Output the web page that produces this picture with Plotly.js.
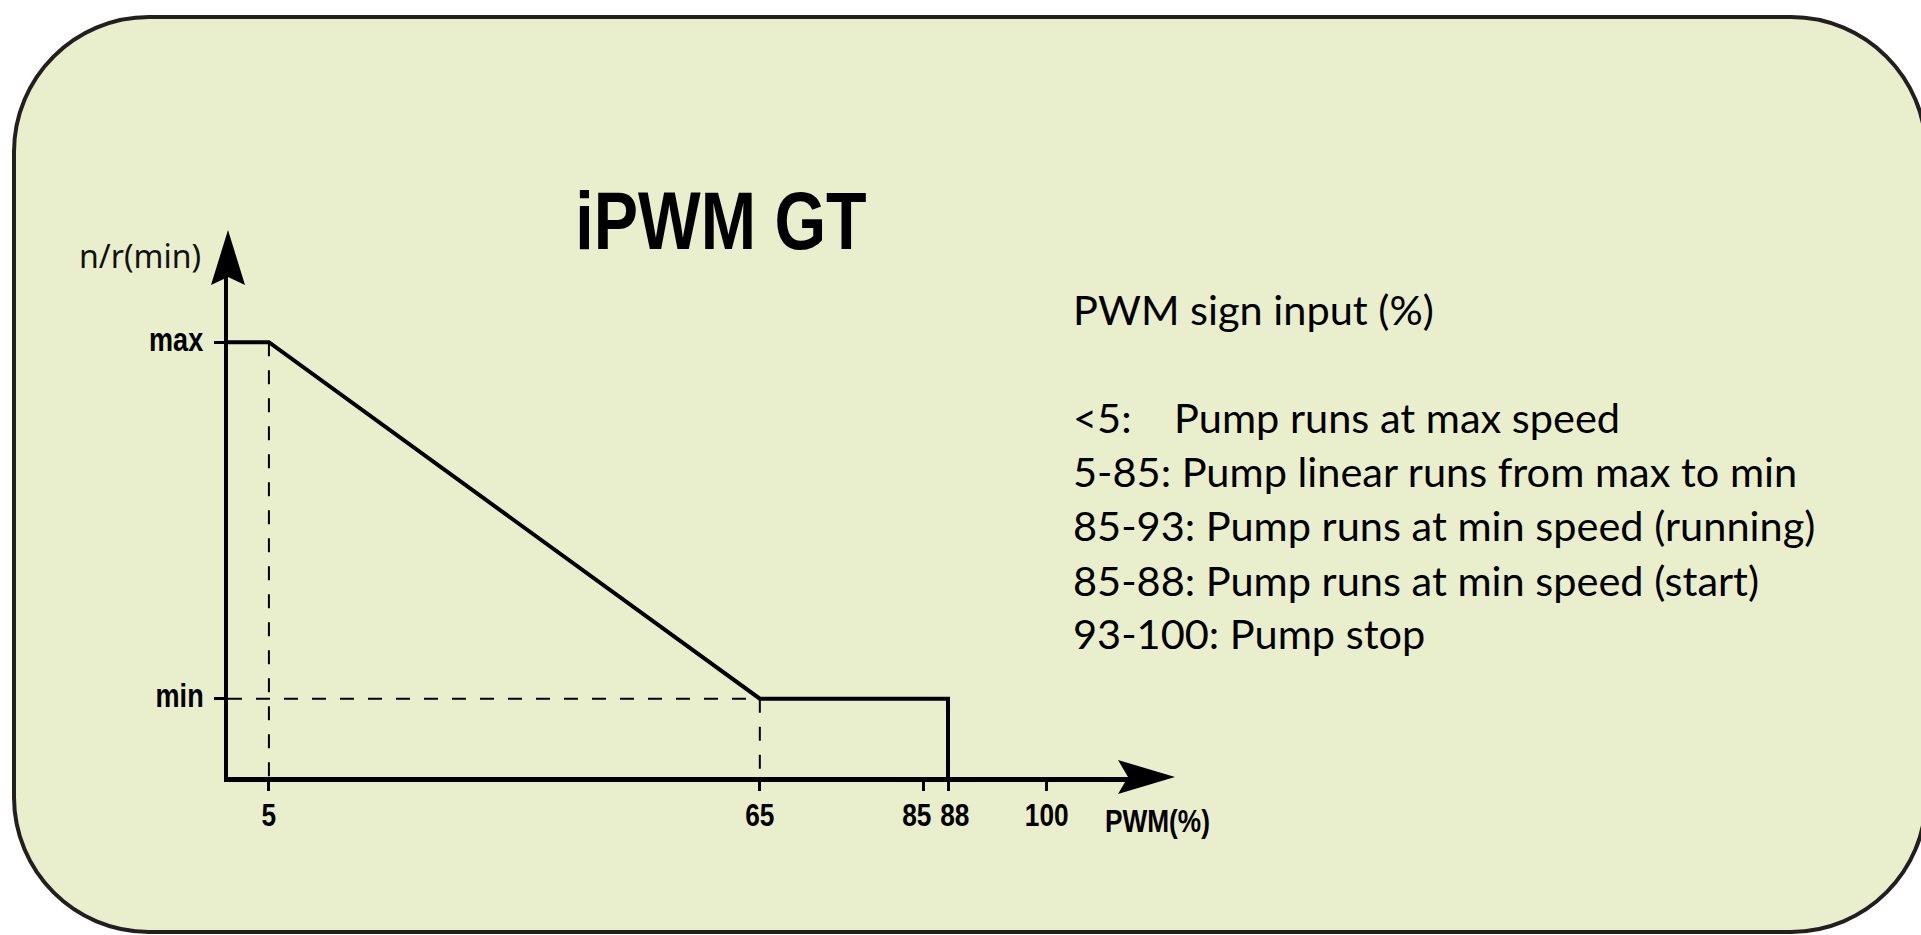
<!DOCTYPE html>
<html>
<head>
<meta charset="utf-8">
<script src="https://cdn.plot.ly/plotly-3.0.1.min.js"></script>
<style>
  html, body { margin: 0; padding: 0; background: #fff; }
  #chart { width: 1921px; height: 935px; }
</style>
</head>
<body>
<div id="chart"></div>
<script>
// Curba pompei iPWM GT: turatie relativa (max = 1) in functie de semnalul PWM (%).
const PWM_PCT = [0, 5, 65, 88, 88];
const SPEED = [1, 1, 0.18, 0.18, 0];

const X_TICKS = [5, 65, 85, 88, 100];
const Y_TICKS = [0.18, 1];
const Y_TICK_TEXT = ['min', 'max'];
const X_RANGE = [0, 110];
const Y_RANGE = [0, 1.15];

const LEGEND_HEAD = 'PWM sign input (%)';
const RANGES = ['&lt;5:&nbsp;&nbsp;&nbsp;', '5-85:', '85-93:', '85-88:', '93-100:'];
const DESCR = [
  'Pump runs at max speed',
  'Pump linear runs from max to min',
  'Pump runs at min speed (running)',
  'Pump runs at min speed (start)',
  'Pump stop',
];

// "Narrow" nu e instalat -> cade pe Liberation Sans, comprimat dupa randare (vezi narrowTexts)
const NARROW = '"Liberation Sans Narrow", "Liberation Sans", sans-serif';
const BODY = 'Lato, "Noto Sans", sans-serif';
const NARROW_SCALE = 0.82;

// zona de plot in pixeli (linia axei y la stanga, axa x jos)
const PLOT = { l: 228, r: 1128, t: 277, b: 777 };
const px = v => (v - PLOT.l) / (PLOT.r - PLOT.l);
const py = v => (PLOT.b - v) / (PLOT.b - PLOT.t);

// chenar cu colturi rotunjite, in coordonate paper
function roundRect(L, T, R, B, r) {
  const k = r * 0.5523;
  const P = (x, y) => px(x).toFixed(5) + ',' + py(y).toFixed(5);
  return 'M' + P(L + r, T) + ' L' + P(R - r, T) +
    ' C' + P(R - r + k, T) + ' ' + P(R, T + r - k) + ' ' + P(R, T + r) +
    ' L' + P(R, B - r) +
    ' C' + P(R, B - r + k) + ' ' + P(R - r + k, B) + ' ' + P(R - r, B) +
    ' L' + P(L + r, B) +
    ' C' + P(L + r - k, B) + ' ' + P(L, B - r + k) + ' ' + P(L, B - r) +
    ' L' + P(L, T + r) +
    ' C' + P(L, T + r - k) + ' ' + P(L + r - k, T) + ' ' + P(L + r, T) + ' Z';
}

const curve = {
  x: PWM_PCT, y: SPEED,
  type: 'scatter', mode: 'lines',
  line: { color: '#000', width: 4 },
  hoverinfo: 'skip',
};

// ghidaje punctate din colturile curbei
const guides = {
  x: [PWM_PCT[1], PWM_PCT[1], null, PWM_PCT[2], PWM_PCT[2], null, PWM_PCT[0], PWM_PCT[2]],
  y: [SPEED[1], 0, null, SPEED[2], 0, null, SPEED[2], SPEED[2]],
  type: 'scatter', mode: 'lines',
  line: { color: '#000', width: 2, dash: '14px,14px' },
  hoverinfo: 'skip',
};

const labelFont = { family: NARROW, size: 32, weight: 'bold', color: '#000' };
const bodyFont = { family: BODY, size: 41.5, color: '#000' };

const annotations = [
  { text: 'n/r(min)', x: px(203), y: py(256), xanchor: 'right', yanchor: 'middle',
    xref: 'paper', yref: 'paper', font: { family: '"Noto Sans", sans-serif', size: 32, color: '#111' } },
  { text: 'PWM(%)', x: px(1103), y: py(821), xanchor: 'left', yanchor: 'middle',
    xref: 'paper', yref: 'paper', font: labelFont },
  { text: LEGEND_HEAD, x: px(1071), y: py(325 - 16), xanchor: 'left', yanchor: 'middle',
    xref: 'paper', yref: 'paper', font: bodyFont },
];
const rowBase = [433, 487, 541, 596, 649];
RANGES.forEach((r, i) => {
  annotations.push({
    text: r + ' ' + DESCR[i], x: px(1071), y: py(rowBase[i] - 16),
    xanchor: 'left', yanchor: 'middle', xref: 'paper', yref: 'paper', font: bodyFont,
  });
});

// etichete axa y (max/min)
Y_TICKS.forEach((v, i) => {
  annotations.push({
    text: Y_TICK_TEXT[i], x: px(206), y: v, xref: 'paper', yref: 'y',
    xanchor: 'right', yanchor: 'middle', yshift: 3,
    font: Object.assign({}, labelFont, { size: 33 }),
  });
});

// etichete axa x; 85 si 88 sunt prea apropiate, le departam putin
const kx = (PLOT.r - PLOT.l) / (X_RANGE[1] - X_RANGE[0]);
const MIN_GAP = 38;
const shifts = X_TICKS.map(() => 0);
for (let i = 1; i < X_TICKS.length; i++) {
  const d = (X_TICKS[i] - X_TICKS[i - 1]) * kx;
  if (d < MIN_GAP) { shifts[i - 1] -= (MIN_GAP - d) / 2; shifts[i] += (MIN_GAP - d) / 2; }
}
X_TICKS.forEach((v, i) => {
  annotations.push({
    text: String(v), x: v, y: py(795), xref: 'x', yref: 'paper',
    xanchor: 'center', yanchor: 'top', xshift: shifts[i], font: labelFont,
  });
});
annotations.forEach(a => { a.showarrow = false; a.align = a.xanchor; });

const arrowStyle = { type: 'path', xref: 'paper', yref: 'paper', xsizemode: 'pixel', ysizemode: 'pixel',
  fillcolor: '#000', line: { width: 0 }, layer: 'above' };

const layout = {
  width: 1921, height: 935,
  margin: { l: PLOT.l, r: 1921 - PLOT.r, t: PLOT.t, b: 935 - PLOT.b, pad: 0 },
  paper_bgcolor: '#ffffff',
  plot_bgcolor: 'rgba(0,0,0,0)',
  showlegend: false,
  title: {
    text: 'iPWM GT',
    font: { family: NARROW, size: 81, weight: 'bold', color: '#000' },
    x: 721 / 1921, xref: 'container', xanchor: 'center',
    y: 1 - 221 / 935, yref: 'container', yanchor: 'middle',
  },
  xaxis: {
    range: X_RANGE, showline: true, linewidth: 5, linecolor: '#000',
    showgrid: false, zeroline: false,
    tickvals: X_TICKS, showticklabels: false,
    ticks: 'outside', ticklen: 9, tickwidth: 3, tickcolor: '#000',
  },
  yaxis: {
    range: Y_RANGE, showline: true, linewidth: 4, linecolor: '#000',
    showgrid: false, zeroline: false,
    tickvals: Y_TICKS, showticklabels: false,
    ticks: 'outside', ticklen: 10, tickwidth: 3, tickcolor: '#000',
  },
  shapes: [
    { type: 'path', xref: 'paper', yref: 'paper', layer: 'below',
      path: roundRect(14, 17, 1926, 932, 135),
      fillcolor: '#e9efcc', line: { color: '#231f20', width: 4 } },
    Object.assign({ xanchor: 1, yanchor: 0, path: 'M-10,17 L47,0 L-10,-17 L0,0 Z' }, arrowStyle),
    Object.assign({ xanchor: 0, yanchor: 1, path: 'M-17,-8 L0,47 L17,-8 L0,0 Z' }, arrowStyle),
  ],
  annotations: annotations,
};

// comprima orizontal textele "narrow", ancorat pe text-anchor
function narrowTexts(gd) {
  gd.querySelectorAll('text').forEach(el => {
    if (!(el.style.fontFamily || '').includes('Narrow')) return;
    const b = el.getBBox();
    const anchor = el.getAttribute('text-anchor') || 'start';
    const ax = anchor === 'end' ? b.x + b.width : anchor === 'middle' ? b.x + b.width / 2 : b.x;
    const t0 = el.getAttribute('transform') || '';
    el.setAttribute('transform', t0 + ' translate(' + ax + ',0) scale(' + NARROW_SCALE + ',1) translate(' + (-ax) + ',0)');
  });
}

Plotly.newPlot('chart', [guides, curve], layout, { displayModeBar: false, staticPlot: true })
  .then(gd => narrowTexts(gd));
</script>
</body>
</html>
